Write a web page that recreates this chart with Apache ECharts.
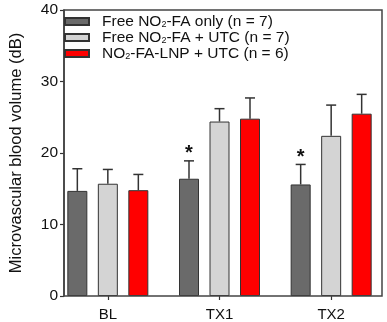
<!DOCTYPE html>
<html><head><meta charset="utf-8">
<script src="https://cdn.jsdelivr.net/npm/echarts@6/dist/echarts.min.js"></script>
<style>html,body{margin:0;padding:0;background:#fff}#c{width:387px;height:322px}</style>
</head><body><div id="c"></div>
<script>
var categories = ['BL', 'TX1', 'TX2'];
var seriesNames = ['Free NO{sub|2}-FA only (n = 7)', 'Free NO{sub|2}-FA + UTC (n = 7)', 'NO{sub|2}-FA-LNP + UTC (n = 6)'];
var freeOnly = [14.7, 16.4, 15.6];
var freeOnlyErr = [17.8, 18.9, 18.4];
var freeUtc = [15.7, 24.4, 22.4];
var freeUtcErr = [17.7, 26.2, 26.7];
var lnpUtc = [14.8, 24.8, 25.5];
var lnpUtcErr = [17.0, 27.7, 28.2];
var significant = [false, true, true];
var yTicks = [0, 10, 20, 30, 40];

var colors = ['#6a6a6a', '#d4d4d4', '#ff0000'];
var values = [freeOnly, freeUtc, lnpUtc];
var errs = [freeOnlyErr, freeUtcErr, lnpUtcErr];
var BAR_W = 20, GAP = 10.5;
var FONT = 'Liberation Sans, Arial, sans-serif';

var series = [];
values.forEach(function (v, i) {
  series.push({
    name: seriesNames[i], type: 'bar', data: v, xAxisIndex: 0, yAxisIndex: 0,
    barWidth: BAR_W, barGap: (GAP / BAR_W * 100) + '%',
    itemStyle: { color: colors[i], borderColor: '#333', borderWidth: 1 },
    silent: true
  });
});
values.forEach(function (v, i) {
  var data = categories.map(function (c, k) { return [k, v[k], errs[i][k], (i === 0 && significant[k]) ? 1 : 0]; });
  series.push({
    type: 'custom', xAxisIndex: 0, yAxisIndex: 0, silent: true, z: 1,
    data: data,
    renderItem: function (params, api) {
      var k = api.value(0);
      var off = (i - 1) * (BAR_W + GAP);
      var top = api.coord([k, api.value(2)]);
      var base = api.coord([k, api.value(1)]);
      var x = top[0] + off;
      var children = [
        { type: 'line', shape: { x1: x, y1: base[1], x2: x, y2: top[1] }, style: { stroke: '#333', lineWidth: 1.5 } },
        { type: 'line', shape: { x1: x - 5, y1: top[1], x2: x + 5, y2: top[1] }, style: { stroke: '#333', lineWidth: 1.5 } }
      ];
      if (api.value(3)) {
        children.push({ type: 'text', x: x, y: top[1] - 7, style: { text: '*', font: 'bold 20px ' + FONT, fill: '#111', align: 'center', verticalAlign: 'middle' } });
      }
      return { type: 'group', children: children };
    }
  });
});

var chart = echarts.init(document.getElementById('c'), null, { renderer: 'canvas' });
chart.setOption({
  animation: false,
  textStyle: { fontFamily: FONT },
  grid: [
    { left: 52, right: -1, top: 10, bottom: 26, show: false },
    { left: 58, right: 5, top: 10, bottom: 26, show: true, borderColor: '#444', borderWidth: 1.5, backgroundColor: 'transparent', z: 3 }
  ],
  xAxis: [
    { type: 'category', gridIndex: 0, data: categories,
      axisLine: { show: false },
      axisTick: { show: true, alignWithLabel: true, length: 4, lineStyle: { color: '#333', width: 1.2 } },
      axisLabel: { fontSize: 15, color: '#111', margin: 11 } },
    { type: 'category', gridIndex: 1, data: categories, show: false }
  ],
  yAxis: [
    { type: 'value', gridIndex: 0, min: 0, max: 40, interval: 10, show: false },
    { type: 'value', gridIndex: 1, min: yTicks[0], max: yTicks[yTicks.length - 1], interval: 10,
      name: 'Microvascular blood volume (dB)', nameLocation: 'middle', nameGap: 39,
      nameTextStyle: { fontSize: 16.5, color: '#111' },
      axisLine: { show: true, lineStyle: { color: '#333', width: 1.5 } },
      axisTick: { show: true, length: 4, lineStyle: { color: '#333', width: 1.2 } },
      axisLabel: { fontSize: 15.5, color: '#111', margin: 6 },
      splitLine: { show: false } }
  ],
  legend: {
    orient: 'vertical', left: 64, top: 13.5, padding: 0, itemWidth: 24, itemHeight: 7, itemGap: 0,
    selectedMode: false,
    data: seriesNames.map(function (n) { return { name: n, icon: 'rect' }; }),
    formatter: function (n) { return n; },
    textStyle: { fontSize: 15.5, color: '#111', padding: [0, 0, 0, 8], lineHeight: 15,
      rich: { sub: { fontSize: 9, padding: [6, 0, 0, 0], lineHeight: 15 } } }
  },
  series: series
});
</script></body></html>
